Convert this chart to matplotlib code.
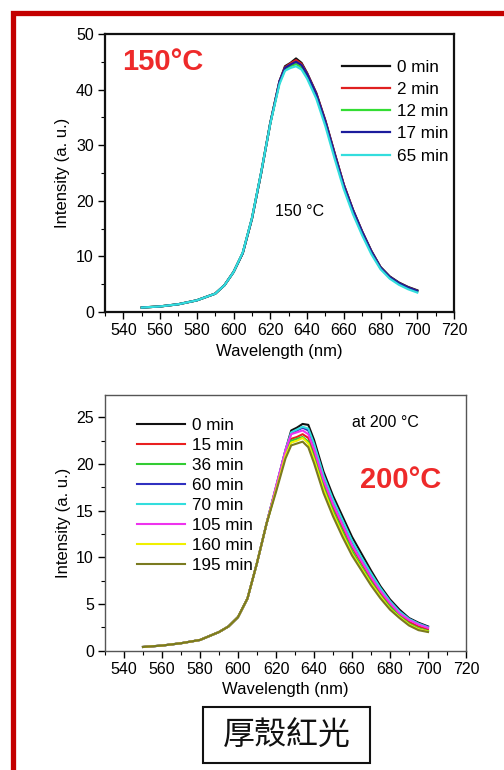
import matplotlib
matplotlib.use("Agg")
import matplotlib.pyplot as plt
from matplotlib.patches import Rectangle
from matplotlib.ticker import MultipleLocator

plt.rcParams['font.family'] = ['Liberation Sans', 'DejaVu Sans']

# wavelength grid (nm)
wl = [550, 560, 570, 580, 590, 595, 600, 605, 610, 615, 620, 625, 628, 631, 634,
      637, 640, 645, 650, 655, 660, 665, 670, 675, 680, 685, 690, 695, 700]

# 150 C spectra
top_labels = ["0 min", "2 min", "12 min", "17 min", "65 min"]
top_colors = ["#111111", "#e02020", "#33dd33", "#1c1c9c", "#33dddd"]
t0 = [0.8, 1.0, 1.4, 2.1, 3.3, 4.8, 7.2, 10.6, 16.8, 25.0, 34.0, 41.5, 44.2, 44.8, 45.6,
      44.8, 43.0, 39.4, 34.4, 28.6, 22.9, 18.4, 14.5, 11.0, 8.1, 6.4, 5.3, 4.5, 3.9]
t2 = [0.8, 1.0, 1.4, 2.1, 3.3, 4.8, 7.2, 10.6, 16.8, 25.0, 34.0, 41.5, 44.0, 44.7, 45.3,
      44.6, 42.9, 39.3, 34.3, 28.5, 22.9, 18.3, 14.4, 10.9, 8.0, 6.3, 5.2, 4.4, 3.8]
t12 = [0.8, 1.0, 1.4, 2.1, 3.3, 4.8, 7.2, 10.6, 16.8, 25.0, 34.0, 41.3, 43.6, 44.2, 44.6,
       44.0, 42.5, 38.9, 33.9, 28.1, 22.5, 18.0, 14.1, 10.7, 7.9, 6.2, 5.1, 4.3, 3.7]
t17 = [0.8, 1.0, 1.4, 2.1, 3.3, 4.8, 7.2, 10.6, 16.8, 25.0, 34.0, 41.5, 43.9, 44.5, 45.0,
       44.4, 42.8, 39.2, 34.2, 28.4, 22.8, 18.3, 14.4, 10.9, 8.0, 6.3, 5.2, 4.4, 3.8]
t65 = [0.8, 1.0, 1.4, 2.1, 3.3, 4.8, 7.2, 10.7, 16.9, 25.1, 33.9, 41.0, 43.4, 43.9, 44.2,
       43.6, 42.0, 38.4, 33.4, 27.6, 22.1, 17.6, 13.8, 10.4, 7.7, 6.0, 4.9, 4.1, 3.5]
top_series = [t0, t2, t12, t17, t65]

# 200 C spectra
bot_labels = ["0 min", "15 min", "36 min", "60 min", "70 min", "105 min", "160 min", "195 min"]
bot_colors = ["#111111", "#e82020", "#33cc33", "#3030c0", "#33dddd", "#ee33ee", "#f0f000", "#7a7a20"]
b0 = [0.40, 0.55, 0.80, 1.15, 2.0, 2.6, 3.6, 5.6, 9.4, 13.6, 17.5, 21.5, 23.6, 23.9, 24.3,
      24.2, 22.6, 19.2, 16.6, 14.4, 12.2, 10.4, 8.6, 6.9, 5.5, 4.4, 3.5, 3.0, 2.6]
b15 = [0.40, 0.55, 0.80, 1.15, 2.0, 2.6, 3.6, 5.6, 9.4, 13.6, 17.4, 21.2, 22.7, 22.9, 23.2,
       22.8, 21.2, 18.0, 15.4, 13.2, 11.1, 9.4, 7.7, 6.2, 4.9, 3.9, 3.1, 2.6, 2.3]
b36 = [0.40, 0.55, 0.80, 1.15, 2.0, 2.6, 3.6, 5.6, 9.4, 13.6, 17.3, 21.0, 22.5, 22.7, 22.9,
       22.4, 20.8, 17.6, 15.0, 12.8, 10.7, 9.0, 7.4, 5.9, 4.7, 3.7, 2.9, 2.4, 2.1]
b60 = [0.40, 0.55, 0.80, 1.15, 2.0, 2.6, 3.6, 5.6, 9.4, 13.6, 17.5, 21.4, 23.3, 23.6, 23.9,
       23.6, 22.0, 18.7, 16.1, 13.9, 11.7, 9.9, 8.2, 6.6, 5.3, 4.2, 3.4, 2.9, 2.55]
b70 = [0.40, 0.55, 0.80, 1.15, 2.0, 2.6, 3.6, 5.6, 9.4, 13.6, 17.5, 21.5, 23.4, 23.7, 24.0,
       23.8, 22.2, 18.8, 16.2, 14.0, 11.8, 10.0, 8.3, 6.7, 5.3, 4.2, 3.4, 2.9, 2.5]
b105 = [0.40, 0.55, 0.80, 1.15, 2.0, 2.6, 3.6, 5.6, 9.4, 13.6, 17.6, 21.5, 23.2, 23.4, 23.6,
        23.2, 21.6, 18.3, 15.7, 13.5, 11.3, 9.6, 7.9, 6.4, 5.1, 4.0, 3.3, 2.8, 2.45]
b160 = [0.40, 0.55, 0.80, 1.15, 2.0, 2.6, 3.6, 5.6, 9.4, 13.6, 17.2, 20.9, 22.3, 22.5, 22.8,
        22.2, 20.5, 17.3, 14.7, 12.5, 10.4, 8.8, 7.2, 5.8, 4.5, 3.6, 2.8, 2.3, 2.05]
b195 = [0.40, 0.55, 0.80, 1.15, 2.0, 2.6, 3.6, 5.6, 9.4, 13.6, 17.0, 20.6, 22.0, 22.2, 22.4,
        21.8, 20.1, 16.9, 14.4, 12.2, 10.2, 8.6, 7.0, 5.6, 4.4, 3.5, 2.7, 2.2, 2.0]
bot_series = [b0, b15, b36, b60, b70, b105, b160, b195]

W, H = 504, 770
fig = plt.figure(figsize=(W / 100, H / 100), dpi=100)
fig.patch.set_facecolor("white")


def style_axes(ax, ymax, ymajor, spine_w, spine_c):
    ax.set_xlim(530, 720)
    ax.set_ylim(0, ymax)
    ax.xaxis.set_major_locator(MultipleLocator(20))
    ax.xaxis.set_minor_locator(MultipleLocator(10))
    ax.yaxis.set_major_locator(MultipleLocator(ymajor))
    ax.yaxis.set_minor_locator(MultipleLocator(ymajor / 2))
    ax.set_xticks(range(540, 721, 20))
    ax.tick_params(which="major", direction="out", length=5, width=1.0, labelsize=11.5, pad=3)
    ax.tick_params(which="minor", direction="out", length=3, width=0.8)
    for s in ax.spines.values():
        s.set_linewidth(spine_w)
        s.set_color(spine_c)
    ax.set_xlabel("Wavelength (nm)", fontsize=12, labelpad=4)
    ax.set_ylabel("Intensity (a. u.)", fontsize=12, labelpad=4)


# top panel
ax1 = fig.add_axes([105 / W, 1 - 312 / H, 349 / W, 278 / H])
for y, c, lab in zip(top_series, top_colors, top_labels):
    ax1.plot(wl, y, color=c, lw=1.6, label=lab)
style_axes(ax1, 50, 10, 1.6, "#111111")
ax1.legend(loc="upper left", bbox_to_anchor=(0.68, 0.907), frameon=False, fontsize=12.3,
           handlelength=2.8, handletextpad=0.4, labelspacing=0.42, borderpad=0, borderaxespad=0)
ax1.text(0.049, 0.90, "150°C", transform=ax1.transAxes, color="#ee2a2a", fontsize=21,
         fontweight="bold", va="center", ha="left")
ax1.text(636, 18, "150 °C", fontsize=11.5, ha="center", va="center")

# bottom panel
ax2 = fig.add_axes([105 / W, 1 - 650.7 / H, 361 / W, 255.7 / H])
for y, c, lab in zip(bot_series, bot_colors, bot_labels):
    ax2.plot(wl, y, color=c, lw=1.5, label=lab)
style_axes(ax2, 27.4, 5, 1.0, "#555555")
ax2.legend(loc="upper left", bbox_to_anchor=(0.089, 0.912), frameon=False, fontsize=12.3,
           handlelength=2.8, handletextpad=0.4, labelspacing=0.3, borderpad=0, borderaxespad=0)
ax2.text(0.706, 0.668, "200°C", transform=ax2.transAxes, color="#ee2a2a", fontsize=21,
         fontweight="bold", va="center", ha="left")
ax2.text(660, 24.4, "at 200 °C", fontsize=11.5, ha="left", va="center")

# label box
fig.add_artist(Rectangle((203 / W, 1 - 763 / H), 167 / W, 56 / H, transform=fig.transFigure,
                         fill=False, edgecolor="#111111", lw=1.5))
fig.text(286.5 / W, 1 - 735 / H, "厚殼紅光", fontsize=23, ha="center", va="center",
         family=["Noto Sans CJK TC", "DejaVu Sans"], color="#111111")

# red frame (continues past the right and bottom edges)
fig.add_artist(Rectangle((12.5 / W, -0.1), 1.2, 1 - 12.5 / H + 0.1, transform=fig.transFigure,
                         fill=False, edgecolor="#c40000", lw=3.8))

fig.savefig("out.png", dpi=100)
